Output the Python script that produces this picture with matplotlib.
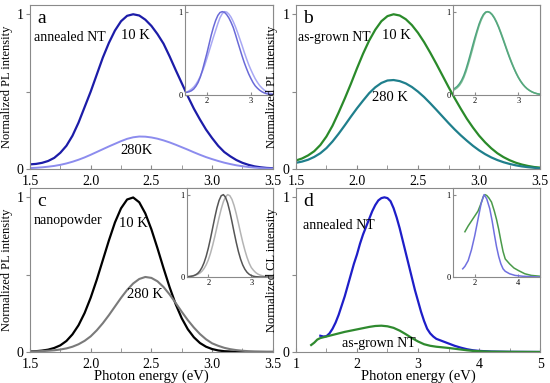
import numpy as np
import matplotlib.pyplot as plt

plt.rcParams['font.family'] = ['Liberation Serif', 'DejaVu Serif']

# photon energy grid (eV) for panels a-c
E = np.linspace(1.5, 3.5, 41)

# a: annealed NT
a_10K = [0.030, 0.033, 0.040, 0.052, 0.072, 0.105, 0.150, 0.215, 0.300, 0.400,
         0.500, 0.610, 0.720, 0.815, 0.895, 0.955, 0.990, 1.000, 0.992, 0.965,
         0.925, 0.872, 0.810, 0.728, 0.640, 0.555, 0.470, 0.390, 0.320, 0.255,
         0.200, 0.150, 0.110, 0.082, 0.058, 0.040, 0.027, 0.017, 0.011, 0.007, 0.005]
a_280K = [0.006, 0.008, 0.011, 0.015, 0.020, 0.027, 0.036, 0.047, 0.060, 0.075,
          0.092, 0.110, 0.128, 0.146, 0.163, 0.180, 0.195, 0.205, 0.210, 0.209,
          0.204, 0.196, 0.185, 0.172, 0.157, 0.141, 0.125, 0.108, 0.092, 0.077,
          0.064, 0.052, 0.041, 0.032, 0.024, 0.018, 0.013, 0.009, 0.006, 0.004, 0.003]

# b: as-grown NT
b_10K = [0.055, 0.068, 0.088, 0.115, 0.155, 0.210, 0.280, 0.365, 0.455, 0.550,
         0.650, 0.745, 0.830, 0.900, 0.955, 0.988, 1.000, 0.992, 0.968, 0.930,
         0.880, 0.820, 0.752, 0.680, 0.605, 0.530, 0.458, 0.390, 0.325, 0.268,
         0.216, 0.172, 0.134, 0.102, 0.077, 0.057, 0.041, 0.029, 0.020, 0.013, 0.009]
b_280K = [0.040, 0.048, 0.060, 0.078, 0.102, 0.135, 0.178, 0.228, 0.282, 0.338,
          0.392, 0.442, 0.490, 0.528, 0.556, 0.572, 0.575, 0.568, 0.553, 0.530,
          0.500, 0.465, 0.425, 0.383, 0.340, 0.297, 0.256, 0.218, 0.183, 0.150,
          0.121, 0.096, 0.075, 0.058, 0.044, 0.033, 0.024, 0.017, 0.012, 0.008, 0.005]

# c: nanopowder
c_10K = [0.003, 0.005, 0.009, 0.015, 0.026, 0.043, 0.071, 0.114, 0.173, 0.252,
         0.351, 0.467, 0.594, 0.721, 0.838, 0.929, 0.986, 0.999, 0.968, 0.896,
         0.793, 0.671, 0.542, 0.419, 0.309, 0.218, 0.147, 0.095, 0.058, 0.034,
         0.019, 0.010, 0.005, 0.003, 0.001, 0.0, 0.0, 0.0, 0.0, 0.0, 0.0]
c_280K = [0.003, 0.004, 0.006, 0.008, 0.011, 0.016, 0.023, 0.034, 0.050, 0.072,
          0.101, 0.140, 0.186, 0.238, 0.294, 0.350, 0.401, 0.443, 0.472, 0.485,
          0.479, 0.457, 0.420, 0.372, 0.317, 0.260, 0.206, 0.158, 0.116, 0.082,
          0.056, 0.040, 0.027, 0.018, 0.012, 0.008, 0.005, 0.003, 0.002, 0.001, 0.001]

# d: cathodoluminescence
d_E_ann = [1.40, 1.45, 1.50, 1.55, 1.60, 1.65, 1.70, 1.75, 1.80, 1.85, 1.90, 1.95,
           2.00, 2.05, 2.10, 2.15, 2.20, 2.25, 2.30, 2.35, 2.40, 2.45, 2.50, 2.55,
           2.60, 2.65, 2.70, 2.75, 2.80, 2.85, 2.90, 2.95, 3.00, 3.05, 3.10, 3.15,
           3.20, 3.25, 3.30, 3.40, 3.50, 3.60, 3.70, 3.80, 3.90, 4.00, 4.20, 4.50, 5.00]
d_ann = [0.105, 0.100, 0.102, 0.120, 0.150, 0.190, 0.240, 0.300, 0.360, 0.430, 0.500, 0.570,
         0.630, 0.700, 0.760, 0.810, 0.860, 0.910, 0.950, 0.980, 0.995, 1.000, 0.995, 0.975,
         0.930, 0.870, 0.800, 0.720, 0.640, 0.560, 0.480, 0.400, 0.330, 0.260, 0.200, 0.150,
         0.120, 0.100, 0.085, 0.070, 0.055, 0.040, 0.028, 0.018, 0.011, 0.007, 0.003, 0.001, 0.0]
d_E_grown = [1.25, 1.30, 1.35, 1.40, 1.50, 1.60, 1.70, 1.80, 1.90, 2.00, 2.10, 2.20,
             2.30, 2.40, 2.50, 2.60, 2.70, 2.80, 2.90, 3.00, 3.10, 3.20, 3.30, 3.40,
             3.50, 3.60, 3.70, 3.80, 3.90, 4.00, 4.20, 4.50, 5.00]
d_grown = [0.045, 0.060, 0.080, 0.090, 0.100, 0.110, 0.120, 0.130, 0.138, 0.146, 0.154, 0.162,
           0.168, 0.170, 0.166, 0.156, 0.138, 0.115, 0.090, 0.068, 0.050, 0.040, 0.034, 0.030,
           0.026, 0.021, 0.016, 0.011, 0.007, 0.005, 0.002, 0.001, 0.0]

# d inset (normalized)
di_E_ann = [1.45, 1.55, 1.70, 1.85, 2.00, 2.15, 2.30, 2.43, 2.55, 2.69, 2.80, 2.90,
            3.00, 3.10, 3.20, 3.30, 3.40, 3.60, 3.85, 4.20, 5.00]
di_ann = [0.10, 0.13, 0.20, 0.33, 0.50, 0.70, 0.90, 1.00, 0.95, 0.83, 0.68, 0.52,
          0.37, 0.25, 0.16, 0.10, 0.07, 0.04, 0.02, 0.01, 0.0]
di_E_grown = [1.55, 1.70, 1.85, 2.00, 2.15, 2.30, 2.40, 2.47, 2.55, 2.65, 2.77, 2.90,
              3.00, 3.10, 3.20, 3.30, 3.40, 3.60, 3.80, 4.00, 4.30, 4.60, 5.00]
di_grown = [0.55, 0.62, 0.68, 0.74, 0.80, 0.90, 0.98, 1.00, 0.99, 0.96, 0.91, 0.80,
            0.70, 0.58, 0.44, 0.31, 0.22, 0.16, 0.11, 0.08, 0.04, 0.02, 0.01]

spine_col = '#8a8a8a'
fig = plt.figure(figsize=(5.5, 3.83), dpi=100)


def panel(rect, xlim, xticks, xlabels, ylabel, xlabel=None):
    ax = fig.add_axes(rect)
    ax.set_xlim(*xlim)
    ax.set_ylim(0, 1.06)
    ax.set_xticks(xticks)
    ax.set_xticklabels(xlabels, fontsize=10)
    ax.set_xticks([(xticks[i] + xticks[i + 1]) / 2 for i in range(len(xticks) - 1)], minor=True)
    ax.set_yticks([0, 0.5, 1])
    ax.set_yticklabels(['0', '', '1'], fontsize=10)
    ax.tick_params(axis='x', which='both', direction='in', length=3, color=spine_col, pad=4)
    ax.tick_params(axis='y', direction='out', length=3, color=spine_col, pad=1.5)
    for s in ax.spines.values():
        s.set_color(spine_col)
        s.set_linewidth(0.8)
    ax.set_ylabel(ylabel, fontsize=9, labelpad=3)
    if xlabel:
        ax.set_xlabel(xlabel, fontsize=10.5, labelpad=-1)
    return ax


def inset(ax, rect, xlim, xticks):
    ins = ax.inset_axes(rect)
    ins.set_xlim(*xlim)
    ins.set_ylim(0, 1.08)
    ins.set_xticks(xticks)
    ins.set_xticklabels([str(t) for t in xticks], fontsize=6)
    ins.set_yticks([0, 1])
    ins.set_yticklabels(['0', '1'], fontsize=6)
    ins.tick_params(direction='in', length=2, color=spine_col, pad=1.5)
    for s in ins.spines.values():
        s.set_color(spine_col)
        s.set_linewidth(0.8)
    return ins


pl = 'Normalized PL intensity'
t15 = [1.5, 2.0, 2.5, 3.0, 3.5]
l15 = ['1.5', '2.0', '2.5', '3.0', '3.5']

# a
ax = panel([0.0545, 0.5587, 0.4415, 0.4283], (1.5, 3.5), t15, l15, pl)
ax.plot(E, a_10K, color='#1c1ca8', lw=1.6)
ax.plot(E, a_280K, color='#8c8cee', lw=1.4)
ax.text(0.03, 0.97, 'a', transform=ax.transAxes, fontsize=14, va='top')
ax.text(0.015, 0.80, 'annealed NT', transform=ax.transAxes, fontsize=10, va='center')
ax.text(2.37, 0.86, '10 K', fontsize=10.5, ha='center', va='center')
ax.text(2.38, 0.12, '280K', fontsize=10.5, ha='center', va='center')
ins = inset(ax, [0.638, 0.451, 0.362, 0.549], (1.5, 3.5), [2, 3])
ins.plot(E, np.array(a_280K) / max(a_280K), color='#a8a8f4', lw=1.1)
ins.plot(E, np.array(a_10K) / max(a_10K), color='#6a6ad8', lw=1.1)

# b
ax = panel([0.538, 0.5587, 0.444, 0.4283], (1.5, 3.5), t15, l15, pl)
ax.plot(E, b_10K, color='#2a8a2a', lw=1.6)
ax.plot(E, b_280K, color='#1f7f8c', lw=1.6)
ax.text(0.03, 0.97, 'b', transform=ax.transAxes, fontsize=14, va='top')
ax.text(0.01, 0.80, 'as-grown NT', transform=ax.transAxes, fontsize=9.8, va='center')
ax.text(2.32, 0.86, '10 K', fontsize=10.5, ha='center', va='center')
ax.text(2.27, 0.46, '280 K', fontsize=10.5, ha='center', va='center')
ins = inset(ax, [0.643, 0.451, 0.357, 0.549], (1.5, 3.5), [2, 3])
ins.plot(E, np.array(b_280K) / max(b_280K), color='#4aa283', lw=1.1)
ins.plot(E, np.array(b_10K) / max(b_10K), color='#5aaa7a', lw=1.1, alpha=0.8)

# c
ax = panel([0.0545, 0.081, 0.4415, 0.428], (1.5, 3.5), t15, l15, pl, 'Photon energy (eV)')
ax.plot(E, c_10K, color='black', lw=1.6)
ax.plot(E, c_280K, color='#7a7a7a', lw=1.5)
ax.text(0.03, 0.97, 'c', transform=ax.transAxes, fontsize=14, va='top')
ax.text(0.015, 0.80, 'nanopowder', transform=ax.transAxes, fontsize=10, va='center')
ax.text(2.35, 0.83, '10 K', fontsize=10.5, ha='center', va='center')
ax.text(2.45, 0.37, '280 K', fontsize=10.5, ha='center', va='center')
ins = inset(ax, [0.646, 0.457, 0.354, 0.543], (1.5, 3.5), [2, 3])
ins.plot(E, np.array(c_280K) / max(c_280K), color='#b4b4b4', lw=1.1)
ins.plot(E, np.array(c_10K) / max(c_10K), color='#555555', lw=1.1)

# d
ax = panel([0.538, 0.081, 0.444, 0.428], (1, 5), [1, 2, 3, 4, 5], ['1', '2', '3', '4', '5'],
           'Normalized CL intensity', 'Photon energy (eV)')
ax.plot(d_E_ann, d_ann, color='#1e1ec8', lw=1.6)
ax.plot(d_E_grown, d_grown, color='#2f8a2f', lw=1.6)
ax.text(0.03, 0.97, 'd', transform=ax.transAxes, fontsize=14, va='top')
ax.text(1.12, 0.82, 'annealed NT', fontsize=10, va='center')
ax.text(1.75, 0.055, 'as-grown NT', fontsize=10, va='center')
ins = inset(ax, [0.643, 0.457, 0.357, 0.543], (1, 5), [2, 4])
ins.plot(di_E_grown, di_grown, color='#4a9a4a', lw=1.1)
ins.plot(di_E_ann, di_ann, color='#7070e0', lw=1.1)

plt.savefig('out.png', dpi=100)
